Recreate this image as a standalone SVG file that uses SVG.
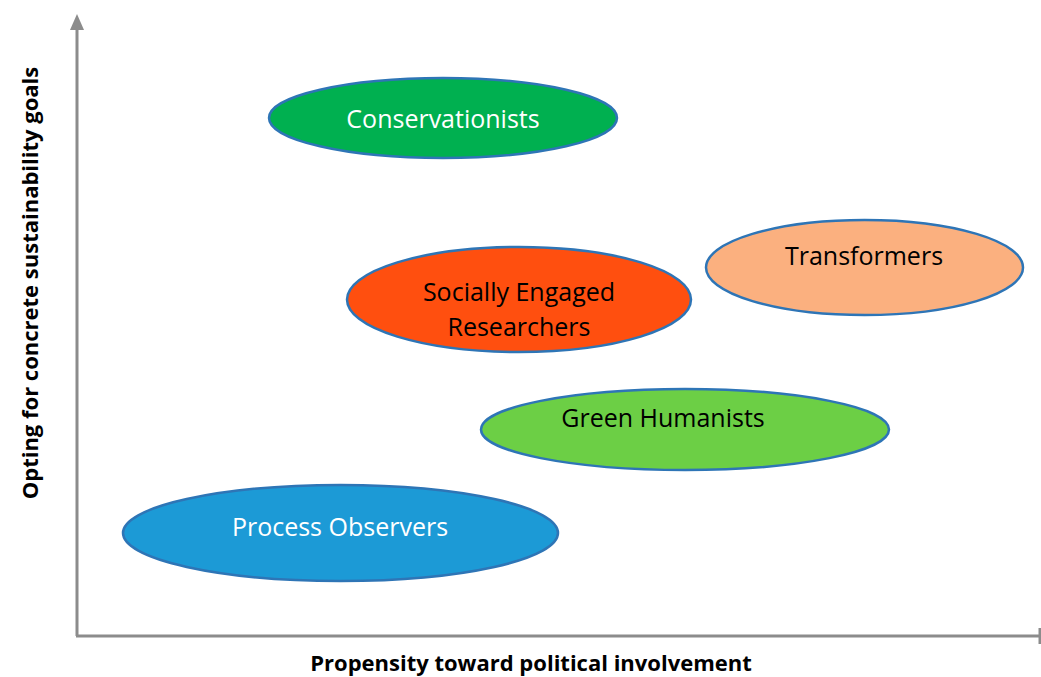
<svg xmlns="http://www.w3.org/2000/svg" width="1041" height="677" viewBox="0 0 1041 677">
<style>
.node ellipse{stroke:#2E75B6;stroke-width:2.5}
.lbl{font-family:"Open Sans","Liberation Sans",sans-serif;font-size:25px;text-anchor:middle}
.axl{font-family:"Open Sans","Liberation Sans",sans-serif;font-size:22px;font-weight:bold;text-anchor:middle;fill:#000}
.axis{stroke:#8C8C8C;stroke-width:3;fill:none}
</style>
<rect width="1041" height="677" fill="#fff"/>
<g id="axes">
<line class="axis" x1="77" y1="636" x2="77" y2="28"/>
<polygon points="77,14 70,30 84,30" fill="#8C8C8C"/>
<line class="axis" x1="76" y1="636" x2="1040" y2="636"/>
<line class="axis" x1="1040" y1="628" x2="1040" y2="644"/>
</g>
<g id="conservationists" class="node">
<ellipse cx="443" cy="118" rx="174" ry="40" fill="#00B050"/>
<text class="lbl" x="443" y="128" fill="#fff">Conservationists</text>
</g>
<g id="transformers" class="node">
<ellipse cx="864.5" cy="267.5" rx="158.5" ry="47.5" fill="#FBB07F"/>
<text class="lbl" x="864" y="265" fill="#000">Transformers</text>
</g>
<g id="socially-engaged" class="node">
<ellipse cx="519" cy="299.5" rx="172" ry="52.5" fill="#FF4F0F"/>
<text class="lbl" x="519" y="301" fill="#000">Socially Engaged</text>
<text class="lbl" x="519" y="336" fill="#000">Researchers</text>
</g>
<g id="green-humanists" class="node">
<ellipse cx="685" cy="429.5" rx="204" ry="40.5" fill="#6CCF45"/>
<text class="lbl" x="663" y="427" fill="#000">Green Humanists</text>
</g>
<g id="process-observers" class="node">
<ellipse cx="340.5" cy="533" rx="217.5" ry="48" fill="#1C9AD6"/>
<text class="lbl" x="340" y="536" fill="#fff">Process Observers</text>
</g>
<text class="axl" x="531" y="671">Propensity toward political involvement</text>
<text class="axl" transform="translate(38,283) rotate(-90)">Opting for concrete sustainability goals</text>
</svg>
